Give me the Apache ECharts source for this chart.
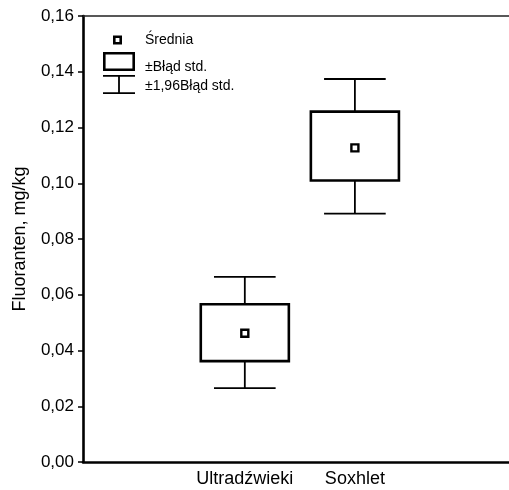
<!DOCTYPE html>
<html>
<head>
<meta charset="utf-8">
<script src="https://cdn.jsdelivr.net/npm/echarts@6/dist/echarts.min.js"></script>
<style>
html,body{margin:0;padding:0;background:#fff;}
#chart{width:509px;height:490px;}
</style>
</head>
<body>
<div id="chart"></div>
<script>
// ---- data ----
var categories = ['Ultradźwieki', 'Soxhlet'];
var means  = [0.0462, 0.1127];
var seLow  = [0.0362, 0.1010];
var seHigh = [0.0566, 0.1257];
var ciLow  = [0.0265, 0.0891];
var ciHigh = [0.0664, 0.1374];
var yTicks = [0, 0.02, 0.04, 0.06, 0.08, 0.10, 0.12, 0.14, 0.16];
var legendNames = ['Średnia', '±Błąd std.', '±1,96Błąd std.'];

var FONT = 'Liberation Sans, Arial, sans-serif';
var catPos = categories.map(function (c, i) { return i + 1; });

var boxData = categories.map(function (c, i) { return [catPos[i], seLow[i], seHigh[i]]; });
var whiskerData = categories.map(function (c, i) { return [catPos[i], ciLow[i], ciHigh[i], seLow[i], seHigh[i]]; });
var meanData = categories.map(function (c, i) { return [catPos[i], means[i]]; });

var BOX_HALF = 0.4, CAP_HALF = 0.28;

function renderBox(params, api) {
  var x = api.value(0);
  var p1 = api.coord([x - BOX_HALF, api.value(2)]);
  var p2 = api.coord([x + BOX_HALF, api.value(1)]);
  return {
    type: 'rect',
    shape: { x: p1[0], y: p1[1], width: p2[0] - p1[0], height: p2[1] - p1[1] },
    style: { fill: '#fff', stroke: '#000', lineWidth: 2.6 }
  };
}
function renderWhisker(params, api) {
  var x = api.value(0);
  var lo = api.coord([x, api.value(1)]);
  var hi = api.coord([x, api.value(2)]);
  var bl = api.coord([x, api.value(3)]);
  var bh = api.coord([x, api.value(4)]);
  var cl = api.coord([x - CAP_HALF, api.value(1)]);
  var cr = api.coord([x + CAP_HALF, api.value(1)]);
  var st = { stroke: '#000', lineWidth: 1.8 };
  return {
    type: 'group',
    children: [
      { type: 'line', shape: { x1: hi[0], y1: hi[1], x2: bh[0], y2: bh[1] }, style: st },
      { type: 'line', shape: { x1: lo[0], y1: lo[1], x2: bl[0], y2: bl[1] }, style: st },
      { type: 'line', shape: { x1: cl[0], y1: hi[1], x2: cr[0], y2: hi[1] }, style: st },
      { type: 'line', shape: { x1: cl[0], y1: lo[1], x2: cr[0], y2: lo[1] }, style: st }
    ]
  };
}

var ICON_MEAN = 'path://M0 0L0 0M37 9L37 9M10 0H19V9H10ZM12.6 2.6V6.4H16.4V2.6Z';
var ICON_BOX = 'path://M37 0L37 0M0 0H32V19H0ZM2.6 2.6V16.4H29.4V2.6Z';
var ICON_WHISK = 'path://M37 0L37 0M0 0H32V1.8H0ZM15.1 1.8H16.9V17.2H15.1ZM0 17.2H32V19H0Z';

function legendItem(name, icon, top, h, padTop) {
  return {
    data: [{ name: name, icon: icon, itemStyle: { color: '#000', borderWidth: 0 } }],
    left: 103, top: top, padding: 0, orient: 'vertical',
    itemWidth: 37, itemHeight: h, selectedMode: false,
    formatter: '{t|{name}}',
    textStyle: {
      fontFamily: FONT, fontSize: 14, color: '#000',
      rich: { t: { fontFamily: FONT, fontSize: 14, color: '#000', padding: [padTop, 0, 0, 0] } }
    }
  };
}

var chart = echarts.init(document.getElementById('chart'), null, { renderer: 'canvas' });
chart.setOption({
  backgroundColor: '#fff',
  animation: false,
  grid: { left: 83, right: 0, top: 16, bottom: 28 },
  legend: [
    legendItem(legendNames[0], ICON_MEAN, 33, 9, 0),
    legendItem(legendNames[1], ICON_BOX, 52, 19, 11),
    legendItem(legendNames[2], ICON_WHISK, 75, 19, 4)
  ],
  xAxis: [{
    type: 'value', min: -0.47, max: 3.4,
    axisLine: { show: true, onZero: false, lineStyle: { color: '#000', width: 2.6 } },
    axisTick: { show: false },
    splitLine: { show: false },
    axisLabel: {
      customValues: catPos, margin: 8,
      fontFamily: FONT, fontSize: 18, color: '#000',
      formatter: function (v) { return categories[Math.round(v) - 1] || ''; }
    }
  }, {
    type: 'value', position: 'top', min: -0.47, max: 3.4,
    axisLine: { show: true, onZero: false, lineStyle: { color: '#222', width: 1.6 } },
    axisTick: { show: false }, axisLabel: { show: false }, splitLine: { show: false }
  }],
  yAxis: {
    type: 'value', min: 0, max: 0.16, interval: 0.02,
    name: 'Fluoranten, mg/kg', nameLocation: 'middle', nameGap: 54,
    nameTextStyle: { fontFamily: FONT, fontSize: 18, color: '#000' },
    axisLine: { show: true, onZero: false, lineStyle: { color: '#000', width: 2.6 } },
    axisTick: { show: true, inside: false, length: 5, lineStyle: { color: '#000', width: 1.5 } },
    splitLine: { show: false },
    axisLabel: {
      margin: 9, fontFamily: FONT, fontSize: 17, color: '#000',
      customValues: yTicks,
      formatter: function (v) { return v.toFixed(2).replace('.', ','); }
    }
  },
  series: [{
    name: legendNames[2], type: 'custom', renderItem: renderWhisker,
    data: whiskerData, itemStyle: { color: '#000' }, z: 2
  }, {
    name: legendNames[1], type: 'custom', renderItem: renderBox,
    data: boxData, itemStyle: { color: '#000' }, z: 3
  }, {
    name: legendNames[0], type: 'scatter', data: meanData,
    symbol: 'rect', symbolSize: 7,
    itemStyle: { color: '#fff', borderColor: '#000', borderWidth: 2.4, opacity: 1 },
    z: 4
  }]
});
</script>
</body>
</html>
